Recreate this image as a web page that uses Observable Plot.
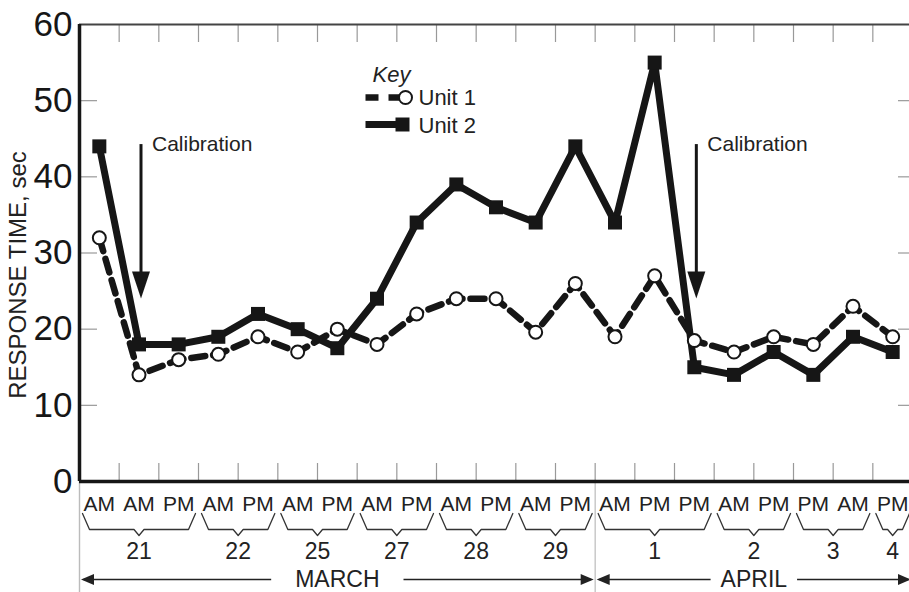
<!DOCTYPE html>
<html><head><meta charset="utf-8">
<script src="https://cdn.jsdelivr.net/npm/d3@7"></script>
<script src="https://cdn.jsdelivr.net/npm/@observablehq/plot@0.6"></script>
<style>html,body{margin:0;padding:0;background:#fff;overflow:hidden;}</style>
</head><body><div id="chart"></div>
<script>
// ---- data ----
const slots = ["AM","AM","PM","AM","PM","AM","PM","AM","PM","AM","PM","AM","PM","AM","PM","PM","AM","PM","PM","AM","PM"];
const unit1 = [32,14,16,16.7,19,17,20,18,22,24,24,19.6,26,19,27,18.5,17,19,18,23,19];
const unit2 = [44,18,18,19,22,20,17.5,24,34,39,36,34,44,34,55,15,14,17,14,19,17];
const days = ["21","22","25","27","28","29","1","2","3","4"];
const daySlotCounts = [3,2,2,2,2,2,3,2,2,1];
const months = ["MARCH","APRIL"];
const monthDayCounts = [6,4];
const calibrationSlots = [1,15];
const calibrationLabel = "Calibration";
const yTicks = [0,10,20,30,40,50,60];
const yTitle = "RESPONSE TIME, sec";
const keyTitle = "Key";
const seriesNames = ["Unit 1","Unit 2"];

// ---- layout helpers (pixel -> data units) ----
const W = 909, H = 592, ML = 79, MT = 24, MB = 111, XR = 912;
const n = slots.length;
const pxX = (XR - ML) / n;
const pxY = (H - MB - MT) / 60;
const sx = px => (px - ML) / pxX - 0.5;
const sy = py => (H - MB - py) / pxY;
const ux = px => px / pxX;
const uy = px => px / pxY;

const u1 = unit1.map((v, i) => ({i, v}));
const u2 = unit2.map((v, i) => ({i, v}));

// day groups -> braces
let acc = 0;
const groups = days.map((d, k) => {
  const start = acc, end = acc + daySlotCounts[k] - 1;
  acc += daySlotCounts[k];
  return {label: d, start, end, c: (start + end) / 2};
});
const bTop = sy(513), bMid = sy(529), bBot = sy(535);
const braces = groups.flatMap(g => [
  [g.start - 0.5 + ux(3), bTop], [g.start - 0.5 + ux(10), bMid],
  [g.c - ux(5), bMid], [g.c, bBot], [g.c + ux(5), bMid],
  [g.end + 0.5 - ux(10), bMid], [g.end + 0.5 - ux(3), bTop]
].map(([x, y]) => ({g: g.label, x, y})));

// months
let dacc = 0;
const monthGap = [24, 10];
const monthData = months.map((m, k) => {
  const firstG = groups[dacc], lastG = groups[dacc + monthDayCounts[k] - 1];
  dacc += monthDayCounts[k];
  const start = firstG.start - 0.5, end = lastG.end + 0.5;
  return {label: m, start, end, c: (start + end) / 2, k};
});
const rowY = sy(579);

const ctx = document.createElement("canvas").getContext("2d");
ctx.font = "23px 'Liberation Sans', Arial, sans-serif";
const monthLinks = monthData.flatMap(m => {
  const half = ux(ctx.measureText(m.label).width / 2 + monthGap[m.k]);
  return [
    {x1: m.c - half, x2: m.start + ux(4)},
    {x1: m.c + half, x2: m.end - ux(4)}
  ];
});
const monthHeads = monthData.flatMap(m => [
  {x: m.start + ux(1.5), rot: 90},
  {x: m.end - ux(1.5), rot: -90}
]);
const boundaries = [...new Set(monthData.flatMap(m => [m.start, m.end]))].filter(b => b < n - 0.5);

// triangle symbol: tip at origin pointing down
const tri = (w, h) => ({draw(c) { c.moveTo(0, 0); c.lineTo(-w / 2, -h); c.lineTo(w / 2, -h); c.closePath(); }});

const tickXs = d3.range(0.5, n - 1, 1);
const innerY = yTicks.filter(t => t > 0 && t < 60);

const tipY = sy(298);
const calib = calibrationSlots.map(c => ({x: c + ux(2), top: 44.3, tip: tipY}));

const ink = "#161616";
const chart = Plot.plot({
  width: W, height: H,
  marginTop: MT, marginBottom: MB, marginLeft: ML, marginRight: 0,
  x: {type: "linear", domain: [-0.5, n - 0.5], range: [ML, XR], axis: null},
  y: {domain: [0, 60], axis: null},
  style: {fontFamily: "'Liberation Sans', Arial, sans-serif", background: "white", color: ink, overflow: "hidden"},
  marks: [
    // inward ticks
    Plot.ruleX(tickXs, {x: d => d, y1: 60, y2: 60 - uy(18), stroke: "#999", strokeWidth: 1.2}),
    Plot.ruleX(tickXs, {x: d => d, y1: 0, y2: uy(18), stroke: "#999", strokeWidth: 1.2}),
    Plot.ruleY(innerY, {y: d => d, x1: -0.5, x2: -0.5 + ux(18), stroke: "#999", strokeWidth: 1.2}),
    Plot.ruleY(innerY, {y: d => d, x1: n - 0.5 - ux(14), x2: n - 0.5, stroke: "#999", strokeWidth: 1.2}),
    // month separators below axis
    Plot.ruleX([-0.5, ...boundaries], {x: d => d, y1: 0, y2: sy(H), stroke: "#bbb", strokeWidth: 1.2}),
    // frame
    Plot.ruleY([60], {stroke: "#444", strokeWidth: 1.8}),
    Plot.ruleX([-0.5], {y1: 0, y2: 60, stroke: ink, strokeWidth: 3.5}),
    Plot.ruleY([0], {stroke: ink, strokeWidth: 3.5}),
    // y axis labels
    Plot.axisY({ticks: yTicks, tickSize: 0, tickPadding: 7, fontSize: 35, label: null, tickFormat: d => String(d)}),
    Plot.text([yTitle], {frameAnchor: "left", textAnchor: "middle", rotate: -90, dx: -61, dy: 22, fontSize: 24, text: d => d, fill: "#222"}),
    // series
    Plot.line(u1, {x: "i", y: "v", stroke: ink, strokeWidth: 6.5, strokeDasharray: "14,8", strokeLinejoin: "miter"}),
    Plot.line(u2, {x: "i", y: "v", stroke: ink, strokeWidth: 7, strokeLinejoin: "miter"}),
    Plot.dot(u2, {x: "i", y: "v", symbol: "square", r: 7.9, fill: ink, stroke: "none"}),
    Plot.dot(u1, {x: "i", y: "v", symbol: "circle", r: 6.5, fill: "white", stroke: ink, strokeWidth: 2}),
    // calibration arrows
    Plot.link(calib, {x1: "x", x2: "x", y1: "top", y2: d => d.tip + uy(20), stroke: ink, strokeWidth: 3}),
    Plot.dot(calib, {x: "x", y: "tip", symbol: tri(18, 27), fill: ink, stroke: "none"}),
    Plot.text(calib, {x: "x", y: "top", dx: 11, text: () => calibrationLabel, textAnchor: "start", lineAnchor: "middle", fontSize: 21, fill: "#222"}),
    // legend
    Plot.text([keyTitle], {x: sx(372), y: sy(74), text: d => d, textAnchor: "start", fontSize: 22, fontStyle: "italic", fill: "#222"}),
    Plot.link([0], {x1: sx(365), x2: sx(403), y1: sy(97), y2: sy(97), stroke: ink, strokeWidth: 6.5, strokeDasharray: "13,10"}),
    Plot.dot([0], {x: sx(405), y: sy(97), r: 6.5, fill: "white", stroke: ink, strokeWidth: 2}),
    Plot.link([0], {x1: sx(365), x2: sx(402), y1: sy(124), y2: sy(124), stroke: ink, strokeWidth: 7}),
    Plot.dot([0], {x: sx(402), y: sy(124), symbol: "square", r: 7.9, fill: ink}),
    Plot.text(seriesNames, {x: sx(418), y: (d, i) => sy(i ? 125 : 97), text: d => d, textAnchor: "start", fontSize: 22, fill: "#222"}),
    // x labels
    Plot.text(slots, {x: (d, i) => i, y: 0, dy: 23, text: d => d, fontSize: 21, fill: "#222"}),
    Plot.line(braces, {x: "x", y: "y", z: "g", stroke: "#333", strokeWidth: 1.3}),
    Plot.text(groups, {x: "c", y: 0, dy: 70, text: "label", fontSize: 23, fill: "#222"}),
    // months
    Plot.link(monthLinks, {x1: "x1", x2: "x2", y1: rowY, y2: rowY, stroke: "#222", strokeWidth: 1.5}),
    Plot.dot(monthHeads, {x: "x", y: rowY, symbol: tri(11, 13), rotate: "rot", fill: "#222", stroke: "none"}),
    Plot.text(monthData, {x: "c", y: rowY, text: "label", fontSize: 23, fill: "#222"})
  ]
});
document.getElementById("chart").appendChild(chart);
</script>
</body></html>
